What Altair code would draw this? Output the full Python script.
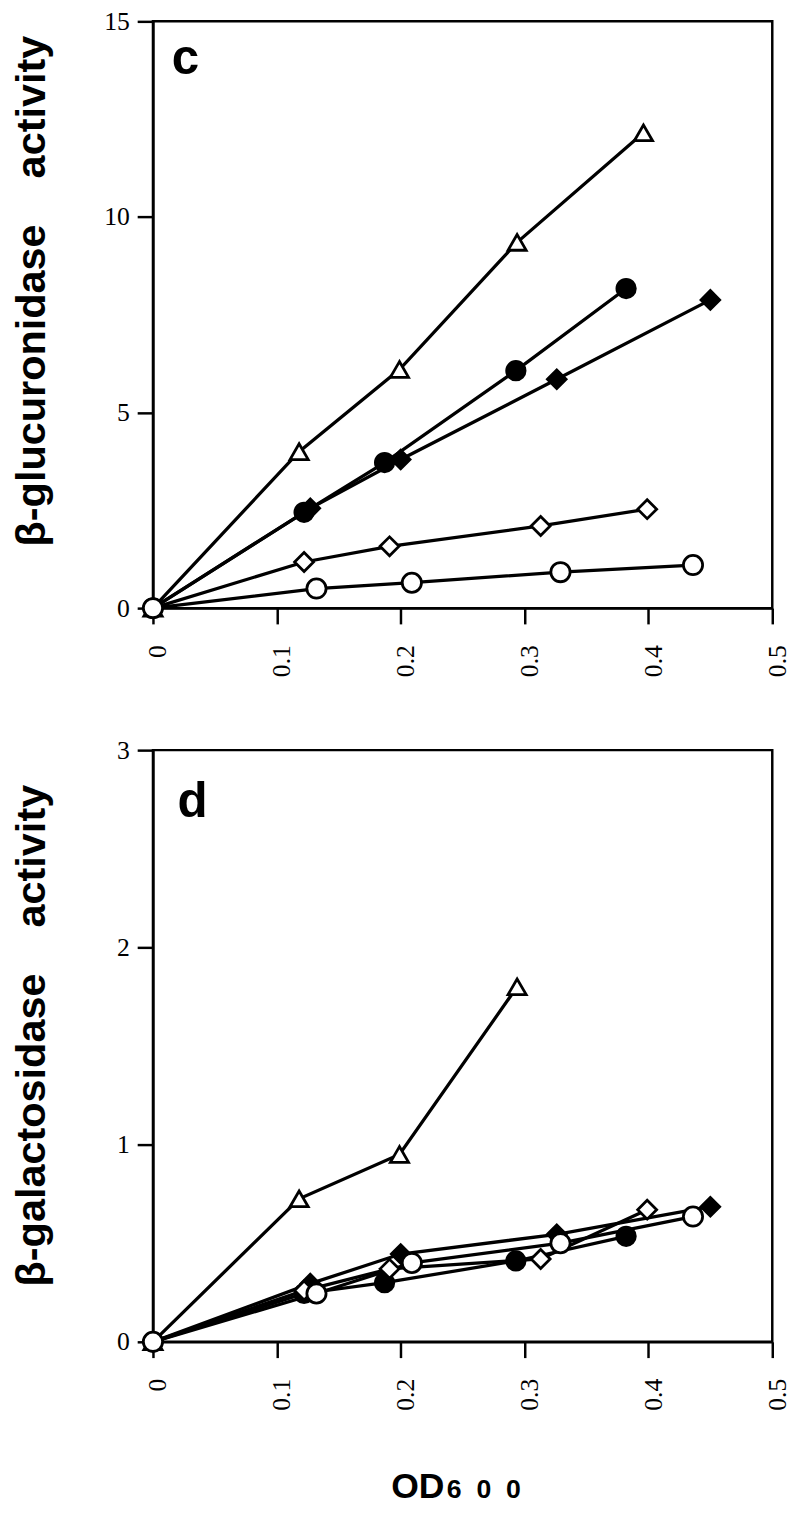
import altair as alt
import pandas as pd

# ---- data ----
series = ["tri", "fcirc", "fdiam", "odiam", "ocirc"]

# OD600 of each culture (same samples in both panels)
od_tri = [0, 0.118, 0.199, 0.294, 0.396]
od_fcirc = [0, 0.122, 0.187, 0.293, 0.382]
od_fdiam = [0, 0.127, 0.200, 0.326, 0.450]
od_odiam = [0, 0.122, 0.191, 0.313, 0.399]
od_ocirc = [0, 0.132, 0.209, 0.329, 0.436]

# panel c: beta-glucuronidase activity
gus_tri = [0, 4.0, 6.1, 9.35, 12.15]
gus_fcirc = [0, 2.45, 3.72, 6.07, 8.17]
gus_fdiam = [0, 2.55, 3.8, 5.85, 7.88]
gus_odiam = [0, 1.18, 1.58, 2.1, 2.53]
gus_ocirc = [0, 0.5, 0.65, 0.92, 1.1]

# panel d: beta-galactosidase activity
gal_tri = [0, 0.725, 0.95, 1.8]
gal_fcirc = [0, 0.245, 0.30, 0.41, 0.535]
gal_fdiam = [0, 0.295, 0.445, 0.545, 0.685]
gal_odiam = [0, 0.26, 0.37, 0.42, 0.67]
gal_ocirc = [0, 0.245, 0.40, 0.50, 0.635]

x_ticks = [0, 0.1, 0.2, 0.3, 0.4, 0.5]
c_ticks = [0, 5, 10, 15]
d_ticks = [0, 1, 2, 3]

od = dict(zip(series, [od_tri, od_fcirc, od_fdiam, od_odiam, od_ocirc]))
gus = dict(zip(series, [gus_tri, gus_fcirc, gus_fdiam, gus_odiam, gus_ocirc]))
gal = dict(zip(series, [gal_tri, gal_fcirc, gal_fdiam, gal_odiam, gal_ocirc]))


def frame(values):
    rows = []
    for s in series:
        for i, (x, y) in enumerate(zip(od[s], values[s])):
            rows.append({"series": s, "od": x, "act": y, "i": i})
    return pd.DataFrame(rows)


df_c = frame(gus)
df_d = frame(gal)

shapes = ["triangle-up", "circle", "diamond", "diamond", "circle"]
fills = ["white", "black", "black", "white", "white"]
sizes = [340, 380, 380, 270, 340]

SANS = "Liberation Sans"
SERIF = "Liberation Serif"
NB = "\u00a0"


def panel(df, ymax, yticks, ytitle, title_y, widths, letter, lx, ly, xtitle):
    x = alt.X(
        "od:Q",
        scale=alt.Scale(domain=[0, 0.5], nice=False, zero=False),
        axis=alt.Axis(values=x_ticks, format="~g", labelAngle=270, labelPadding=21,
                      labelOffset=5, titleFont=SANS, titleFontWeight="bold",
                      titleFontSize=36, titleX=268, titlePadding=60),
        title=xtitle,
    )
    y = alt.Y(
        "act:Q",
        scale=alt.Scale(domain=[0, ymax], nice=False),
        axis=alt.Axis(values=yticks, format="~g", labelPadding=8,
                      titleAngle=270, titleX=-110, titleY=title_y,
                      titleAlign="center", titleBaseline="alphabetic",
                      titleFont=SANS, titleFontWeight="bold", titleFontSize=42),
        title=ytitle,
    )
    base = alt.Chart(df)
    lines = base.mark_line(color="black").encode(
        x=x, y=y, detail="series:N", order="i:Q",
        strokeWidth=alt.StrokeWidth("series:N", scale=alt.Scale(domain=series, range=widths), legend=None),
    )
    pts = base.mark_point(filled=True, stroke="black", strokeWidth=2.8, opacity=1).encode(
        x=x, y=y,
        shape=alt.Shape("series:N", scale=alt.Scale(domain=series, range=shapes), legend=None),
        fill=alt.Fill("series:N", scale=alt.Scale(domain=series, range=fills), legend=None),
        size=alt.Size("series:N", scale=alt.Scale(domain=series, range=sizes), legend=None),
    )
    lab = alt.Chart(pd.DataFrame({"t": [letter]})).mark_text(
        font=SANS, fontWeight="bold", fontSize=50, align="left", baseline="top", color="black"
    ).encode(text="t:N", x=alt.value(lx), y=alt.value(ly))
    return [lines, pts, lab]


top_layers = panel(df_c, 15, c_ticks,
                   "β-glucuronidase" + NB * 4 + "activity", 273,
                   [3.3, 3.3, 3.3, 2.8, 2.5], "c", 19, 13, None)
top = alt.layer(*top_layers).properties(width=628, height=595)

bot_layers = panel(df_d, 3, d_ticks,
                   "β-galactosidase" + NB * 4 + "activity", 289,
                   [3.3, 1.4, 3.3, 2.8, 3.3], "d", 25, 28, "OD")
sub = alt.Chart(pd.DataFrame({"t": ["6" + NB * 2 + "0" + NB * 2 + "0"]})).mark_text(
    font=SANS, fontWeight="bold", fontSize=27, align="left", baseline="alphabetic", color="black"
).encode(text="t:N", x=alt.value(298), y=alt.value(758))
bottom = alt.layer(*bot_layers, sub).properties(width=628, height=600)

chart = alt.vconcat(top, bottom, spacing=58).properties(
    padding={"left": 1, "top": -12, "right": 0, "bottom": -5}
).configure_axis(
    domainColor="black", domainWidth=2.5, tickColor="black", tickWidth=2.5, tickSize=16,
    labelFont=SERIF, labelFontSize=26, labelColor="black", titleColor="black", grid=False,
).configure_view(
    stroke="black", strokeWidth=2.5
).configure_point(opacity=1)

chart.save("out.html", embed_options={"renderer": "svg", "actions": False})
